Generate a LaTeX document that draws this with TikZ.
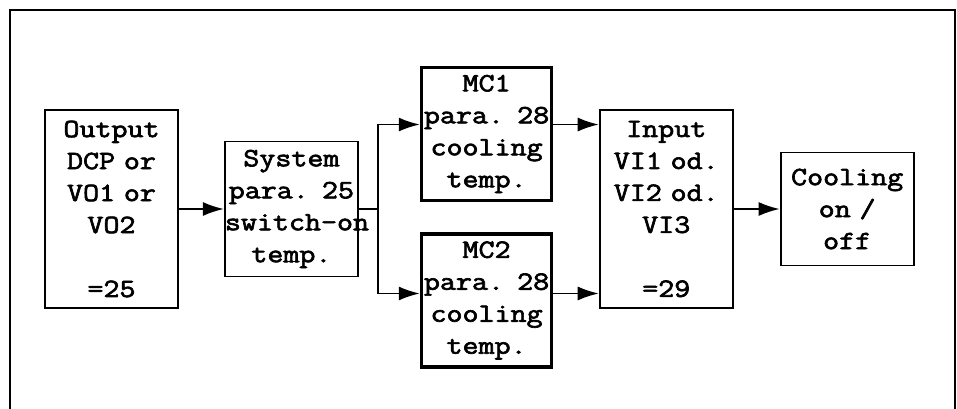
\documentclass[tikz,border=0pt]{standalone}
\usepackage{fontspec}
\setmonofont{Latin Modern Mono}[AutoFakeBold=2.5,FakeStretch=1.18]
\usetikzlibrary{arrows.meta,positioning}

\tikzset{
  blk/.style={draw,line width=1.1pt,inner sep=0pt,text width=2.66cm,align=center,
    font=\ttfamily\bfseries\fontsize{15}{18.2}\selectfont},
  mcblk/.style={blk,line width=2pt,text width=2.6cm,minimum height=2.66cm},
  flow/.style={->,line width=1.1pt}
}

\begin{document}
\begin{tikzpicture}[x=0.02cm,y=-0.02cm,>={Latex[length=12pt,width=8pt]}]
        \useasboundingbox (0,0) rectangle (957,409);
        \draw[line width=1.1pt] (10,409) |- (955,10) -- (955,409);
        \node[blk,minimum height=3.96cm] (out) at (111.5,209) {Output\\DCP or\\VO1 or\\VO2\\[18.2pt]=25};
        \node[blk,minimum height=2.7cm,right=0.9cm of out] (sys) {System\\para. 25\\switch-on\\temp.};
        \node[mcblk,right=1.22cm of sys,yshift=1.5cm] (mc1) {MC1\\para. 28\\cooling\\temp.};
        \node[mcblk,right=1.22cm of sys,yshift=-1.83cm] (mc2) {MC2\\para. 28\\cooling\\temp.};
        \node[blk,minimum height=3.96cm,right=4.8cm of sys] (inp) {Input\\VI1 od.\\VI2 od.\\VI3\\[18.2pt]=29};
        \node[blk,minimum height=2.26cm,right=0.92cm of inp] (cool) {Cooling\\on /\\off};
        % branch after the switch-on block
        \coordinate[right=0.38cm of sys.east] (jn);
        \coordinate (m1) at ([yshift=0.19cm]mc1.west);
        \coordinate (m2) at ([yshift=0.14cm]mc2.west);
        \coordinate (n1) at ([yshift=0.19cm]mc1.east);
        \coordinate (n2) at ([yshift=0.14cm]mc2.east);
        \draw[flow] (out) -- (sys);
        \draw[line width=1.1pt] (sys.east) -- (jn);
        \draw[flow] (jn) |- (m1);
        \draw[flow] (jn) |- (m2);
        \draw[flow] (n1) -- (n1 -| inp.west);
        \draw[flow] (n2) -- (n2 -| inp.west);
        \draw[flow] (inp) -- (cool);
      \end{tikzpicture}
\end{document}
